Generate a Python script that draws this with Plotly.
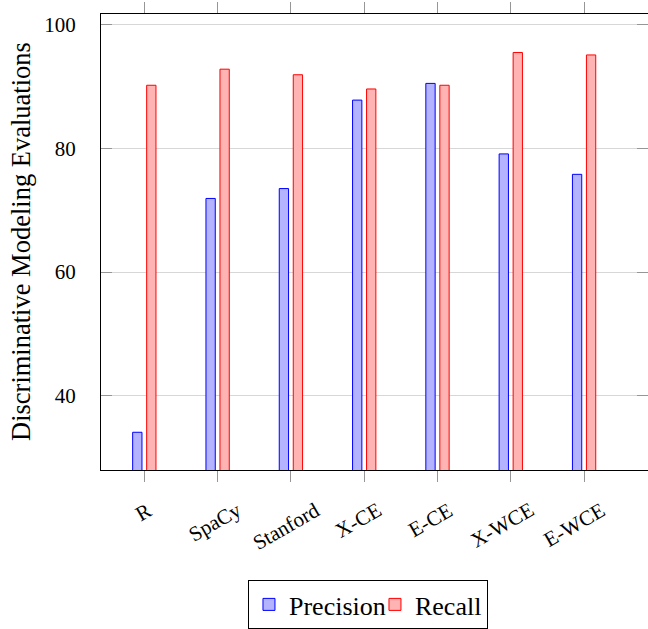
import plotly.graph_objects as go

categories = ["R", "SpaCy", "Stanford", "X-CE", "E-CE", "X-WCE", "E-WCE"]
precision = [34.1, 71.9, 73.5, 87.8, 90.5, 79.1, 75.8]
recall = [90.2, 92.8, 91.9, 89.6, 90.2, 95.5, 95.1]
y_ticks = [40, 60, 80, 100]

SERIF = "Liberation Serif, Times New Roman, serif"

fig = go.Figure()
fig.add_trace(go.Bar(
    x=categories, y=precision, name="Precision",
    width=0.127, offset=-0.159, legendwidth=81,
    marker=dict(color="rgb(179,179,255)", line=dict(color="rgb(0,0,255)", width=1)),
))
fig.add_trace(go.Bar(
    x=categories, y=recall, name="Recall",
    width=0.127, offset=0.032,
    marker=dict(color="rgb(255,179,179)", line=dict(color="rgb(255,0,0)", width=1)),
))

annotations = []
for i, c in enumerate(categories):
    annotations.append(dict(
        x=c, xref="x", y=0, yref="paper", text=c, showarrow=False,
        textangle=-30, xanchor="center", yanchor="top", yshift=-25,
        xshift=-1.0 - 1.5 * i,
        font=dict(family=SERIF, size=21, color="black"),
    ))
annotations.append(dict(
    x=0, xref="paper", y=0.5, yref="paper", text="Discriminative Modeling Evaluations",
    showarrow=False, textangle=-90, xanchor="center", yanchor="middle", xshift=-80,
    font=dict(family=SERIF, size=26.5, color="black"),
))

fig.update_layout(
    width=648, height=629,
    margin=dict(l=101, r=0, t=14, b=157),
    paper_bgcolor="white", plot_bgcolor="white",
    barmode="overlay",
    font=dict(family=SERIF, color="black"),
    xaxis=dict(
        type="category", range=[-0.591, 6.872],
        showticklabels=False, showgrid=False,
        ticks="outside", ticklen=11, tickcolor="rgb(150,150,150)", tickwidth=1,
        showline=True, linecolor="black", linewidth=1, mirror="ticks",
        zeroline=False,
    ),
    yaxis=dict(
        range=[28, 101.72], tickvals=y_ticks,
        ticks="inside", ticklen=11, tickcolor="rgb(150,150,150)", tickwidth=1,
        showgrid=True, gridcolor="rgb(215,215,215)", gridwidth=1,
        showline=True, linecolor="black", linewidth=1, mirror="ticks",
        zeroline=False, ticklabelstandoff=20,
        tickfont=dict(family=SERIF, size=21, color="black"),
    ),
    legend=dict(
        orientation="h", x=0.2687, xanchor="left", y=-0.2424, yanchor="top",
        bordercolor="black", borderwidth=1, bgcolor="white",
        font=dict(family=SERIF, size=26, color="black"),
        itemclick=False, itemwidth=30,
    ),
    showlegend=True,
    annotations=annotations,
)

fig.write_html(
    "out.html",
    config={"displayModeBar": False},
    post_script="document.body.style.margin='0';document.documentElement.style.overflow='hidden';",
)
